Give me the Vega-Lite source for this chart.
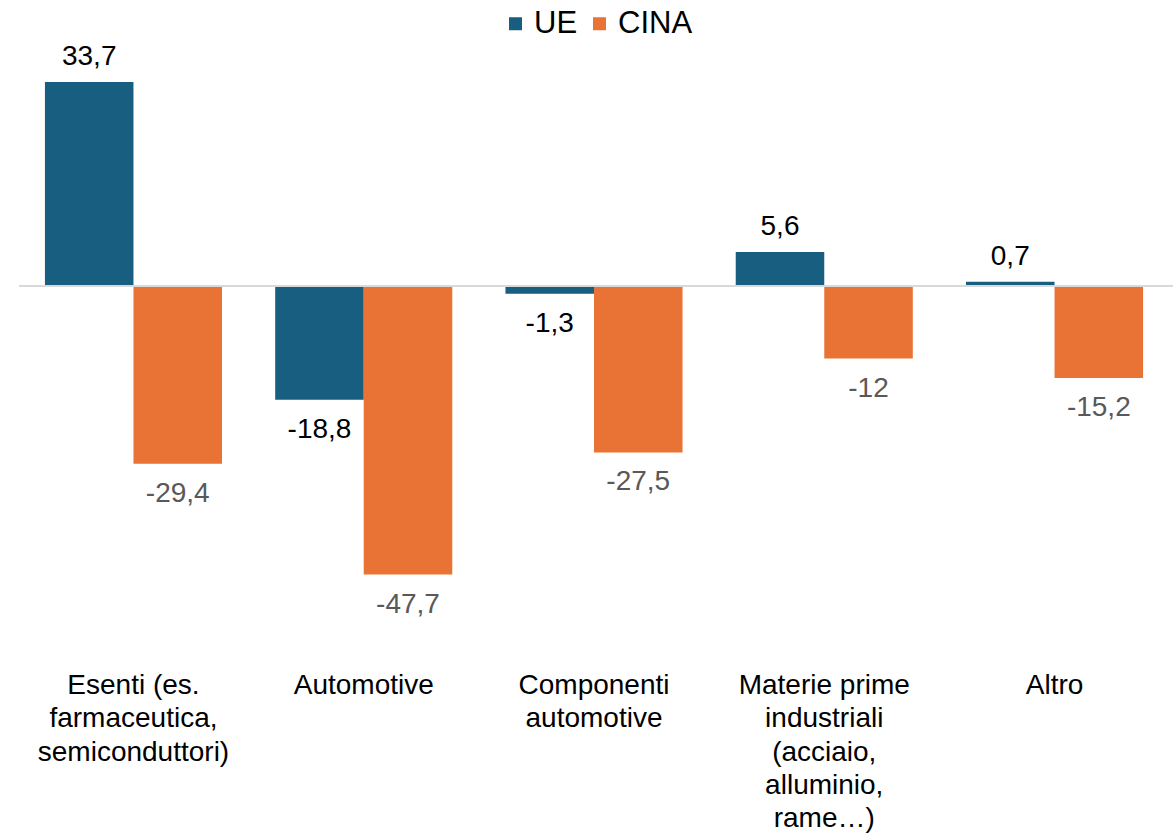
{
  "$schema": "https://vega.github.io/schema/vega-lite/v6.json",
  "autosize": {"type": "none"},
  "width": 1158,
  "height": 544.5,
  "padding": {"left": 15, "top": 44, "right": 0, "bottom": 246.5},
  "background": "#ffffff",
  "config": {"font": "Liberation Sans", "view": {"stroke": null}},
  "data": {
    "values": [
      {"cat": "Esenti (es.|farmaceutica,|semiconduttori)", "series": "UE", "value": 33.7},
      {"cat": "Esenti (es.|farmaceutica,|semiconduttori)", "series": "CINA", "value": -29.4},
      {"cat": "Automotive", "series": "UE", "value": -18.8},
      {"cat": "Automotive", "series": "CINA", "value": -47.7},
      {"cat": "Componenti|automotive", "series": "UE", "value": -1.3},
      {"cat": "Componenti|automotive", "series": "CINA", "value": -27.5},
      {"cat": "Materie prime|industriali|(acciaio,|alluminio,|rame…)", "series": "UE", "value": 5.6},
      {"cat": "Materie prime|industriali|(acciaio,|alluminio,|rame…)", "series": "CINA", "value": -12},
      {"cat": "Altro", "series": "UE", "value": 0.7},
      {"cat": "Altro", "series": "CINA", "value": -15.2}
    ]
  },
  "transform": [{"calculate": "replace('' + datum.value, '.', ',')", "as": "lab"}],
  "encoding": {
    "x": {
      "field": "cat", "type": "nominal", "sort": null,
      "scale": {"paddingInner": 0.231, "paddingOuter": 0.13},
      "axis": {
        "title": null, "domain": false, "ticks": false, "labelAngle": 0,
        "labelExpr": "split(datum.label, '|')",
        "labelFontSize": 28, "labelLineHeight": 33.3, "labelColor": "#000000",
        "labelBaseline": "top", "labelPadding": 83, "labelLimit": 400
      }
    },
    "xOffset": {"field": "series", "type": "nominal", "sort": ["UE", "CINA"], "scale": {"paddingInner": 0, "paddingOuter": 0}},
    "y": {"field": "value", "type": "quantitative", "scale": {"domain": [-50, 40], "nice": false, "zero": true}, "axis": null}
  },
  "layer": [
    {
      "mark": {"type": "bar"},
      "encoding": {
        "color": {
          "field": "series", "type": "nominal", "sort": ["UE", "CINA"],
          "scale": {"domain": ["UE", "CINA"], "range": ["#185e80", "#e97235"]},
          "legend": {
            "title": null, "orient": "none", "direction": "horizontal",
            "legendX": 485, "legendY": -36, "padding": 0,
            "symbolType": "square", "symbolSize": 169, "symbolStrokeWidth": 0,
            "labelFontSize": 31, "labelColor": "#000000", "labelOffset": 3,
            "columnPadding": 6
          }
        }
      }
    },
    {
      "mark": {"type": "rule", "color": "#d9d9d9", "strokeWidth": 2},
      "encoding": {"x": {"value": 4}, "x2": {"value": 1158}, "xOffset": {"value": 0}, "y": {"datum": 0}}
    },
    {
      "transform": [{"filter": "datum.value >= 0"}],
      "mark": {"type": "text", "fontSize": 28, "baseline": "alphabetic", "dy": -17},
      "encoding": {
        "text": {"field": "lab"},
        "color": {"condition": {"test": "datum.series === 'UE'", "value": "#000000"}, "value": "#595959"}
      }
    },
    {
      "transform": [{"filter": "datum.value < 0"}],
      "mark": {"type": "text", "fontSize": 28, "baseline": "top", "dy": 16},
      "encoding": {
        "text": {"field": "lab"},
        "color": {"condition": {"test": "datum.series === 'UE'", "value": "#000000"}, "value": "#595959"}
      }
    }
  ]
}
